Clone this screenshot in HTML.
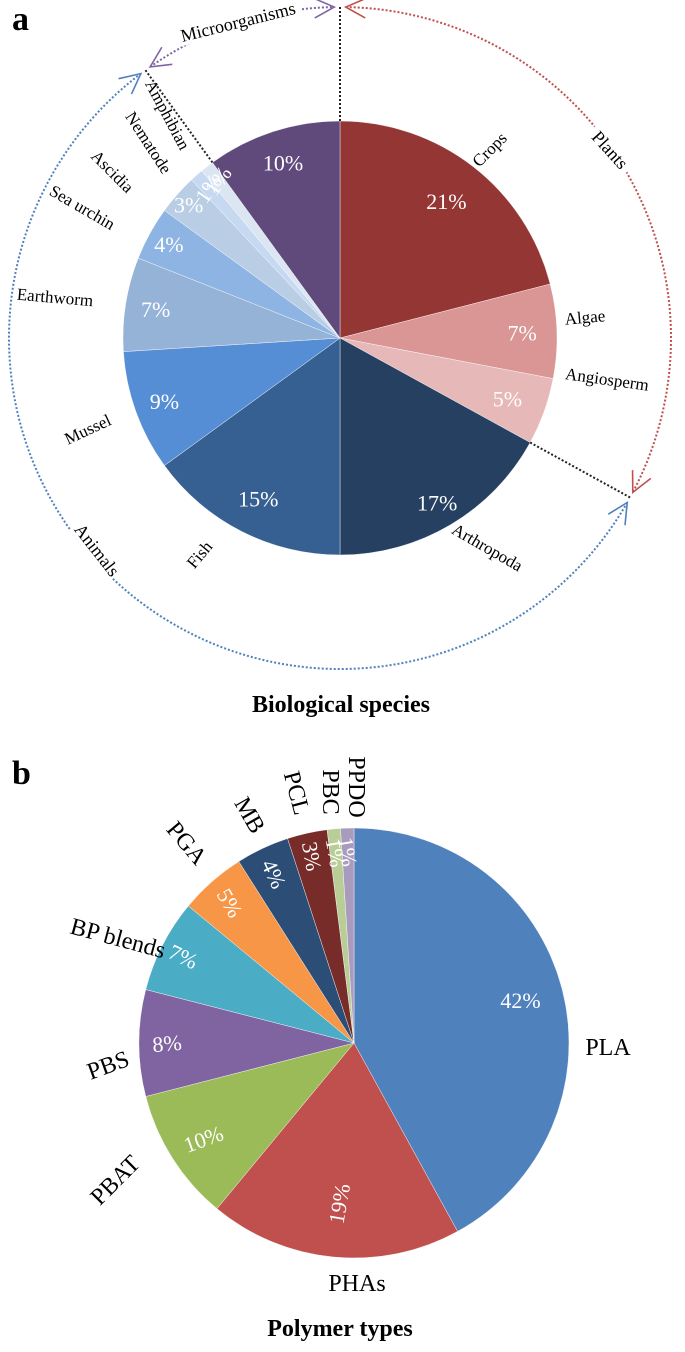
<!DOCTYPE html>
<html><head><meta charset="utf-8"><style>
html,body{margin:0;padding:0;background:#fff;}
svg{display:block;font-family:"Liberation Serif",serif;}
</style></head><body>
<svg id="chart" width="685" height="1352" viewBox="0 0 685 1352" xmlns="http://www.w3.org/2000/svg">
<text x="12" y="30" font-size="34" font-weight="bold">a</text>
<text x="12" y="784" font-size="34" font-weight="bold">b</text>
<text x="341" y="712" font-size="24" font-weight="bold" text-anchor="middle">Biological species</text>
<text x="340" y="1336" font-size="24" font-weight="bold" text-anchor="middle">Polymer types</text>
<g id="ga"></g><g id="gb"></g>
</svg>
<script>
const speciesNames=["Crops","Algae","Angiosperm","Arthropoda","Fish","Mussel","Earthworm","Sea urchin","Ascidia","Nematode","Amphibian","Microorganisms"];
const speciesValues=[21,7,5,17,15,9,7,4,3,1,1,10];
const speciesColors=["#943634","#d99694","#e6b9b8","#254061","#376092","#558ed5","#95b3d7","#8eb4e3","#b9cde5","#c6d9f1","#dce6f2","#604a7b"];
const polymerNames=["PLA","PHAs","PBAT","PBS","BP blends","PGA","MB","PCL","PBC","PPDO"];
const polymerValues=[42,19,10,8,7,5,4,3,1,1];
const polymerColors=["#4f81bd","#c0504d","#9bbb59","#8064a2","#4bacc6","#f79646","#2c4d75","#772c2a","#b9cd96","#a99bbd"];
const NS="http://www.w3.org/2000/svg";
function mk(tag,attrs,parent){const e=document.createElementNS(NS,tag);for(const k in attrs)e.setAttribute(k,attrs[k]);parent.appendChild(e);return e;}
function pt(cx,cy,r,a){const t=a*Math.PI/180;return [cx+r*Math.sin(t),cy-r*Math.cos(t)];}
function drawPie(g,cx,cy,r,vals,cols,names,prefix){
  const tot=vals.reduce((a,b)=>a+b,0);let acc=0;const mids=[];
  vals.forEach((v,i)=>{const a0=acc/tot*360,a1=(acc+v)/tot*360;acc+=v;
    const p0=pt(cx,cy,r,a0),p1=pt(cx,cy,r,a1);
    const p=mk('path',{d:`M${cx},${cy}L${p0[0]},${p0[1]}A${r},${r} 0 ${a1-a0>180?1:0} 1 ${p1[0]},${p1[1]}Z`,fill:cols[i],stroke:'#fff','stroke-width':0.4},g);
    
    
    mids.push([(a0+a1)/2,a0,a1]);});
  return mids;}
// Chart A
const ga=document.getElementById('ga');
const CAx=340,CAy=338,RA=217,RR=331;
const ma=drawPie(ga,CAx,CAy,RA,speciesValues,speciesColors,speciesNames,'species');
const pctRA=[0.8,0.84,0.82,0.88,0.83,0.86,0.86,0.9,0.93,0.92,0.92,0.85];
speciesValues.forEach((v,i)=>{const m=ma[i][0];const p=pt(CAx,CAy,RA*pctRA[i],m);
  const rot=(i==9||i==10)?-55:0;
  const t=mk('text',{x:p[0],y:p[1]+8,'font-size':22,fill:'#fff','text-anchor':'middle',transform:`rotate(${rot} ${p[0]} ${p[1]})`},ga);t.textContent=v+'%';
  
  });
const labA=[[490,150,-45],[585,318,-5],[607,380,8],[487,548,30],[200,555,-50],[88,430,-25],[55,298,5],[82,208,30],[112,172,45],[148,143,57],[167,115,62]];
labA.forEach((l,i)=>{const t=mk('text',{x:l[0],y:l[1]+5,'font-size':17,fill:'#000','text-anchor':'middle',transform:`rotate(${l[2]} ${l[0]} ${l[1]})`},ga);t.textContent=speciesNames[i];
  
  });
function arc(a0,a1,col,name){const p0=pt(CAx,CAy,RR,a0),p1=pt(CAx,CAy,RR,a1);
  const e=mk('path',{d:`M${p0[0]},${p0[1]}A${RR},${RR} 0 ${a1-a0>180?1:0} 1 ${p1[0]},${p1[1]}`,fill:'none',stroke:col,'stroke-width':2,'stroke-dasharray':'2,2'},ga);
  
  
  [[a0,1],[a1,-1]].forEach(([a,d])=>{const p=pt(CAx,CAy,RR,a);const t1=pt(CAx,CAy,RR-10,a+d*3.5),t2=pt(CAx,CAy,RR+10,a+d*3.5);
    mk('path',{d:`M${t1[0]},${t1[1]}L${p[0]},${p[1]}L${t2[0]},${t2[1]}`,fill:'none',stroke:col,'stroke-width':1.6},ga);});}
const bA=[0,(21+7+5)/100*360,(100-10)/100*360];
arc(bA[0]+1,bA[1]-1,'#c0504d','plants-bracket');
arc(bA[1]+1,bA[2]-1,'#4f81bd','animals-bracket');
arc(bA[2]+1,359,'#8064a2','microorganisms-bracket');
bA.forEach((a,i)=>{const p0=pt(CAx,CAy,RA,a),p1=pt(CAx,CAy,RR,a);const e=mk('line',{x1:p0[0],y1:p0[1],x2:p1[0],y2:p1[1],stroke:'#222','stroke-width':2,'stroke-dasharray':'2,2'},ga);
  
  });
[["Plants",610,150,48,'plants-group-label'],["Animals",97,550,52,'animals-group-label'],["Microorganisms",238,22,-14,'microorganisms-group-label']].forEach(g=>{
  mk('rect',{x:g[1]-(g[0].length*4.6),y:g[2]-10,width:g[0].length*9.2,height:20,fill:'#fff',transform:`rotate(${g[3]} ${g[1]} ${g[2]})`},ga);
  const t=mk('text',{x:g[1],y:g[2]+6,'font-size':18,'text-anchor':'middle',transform:`rotate(${g[3]} ${g[1]} ${g[2]})`},ga);t.textContent=g[0];
  
  });
// Chart B
const gb=document.getElementById('gb');
const CBx=354,CBy=1043,RB=215;
const mb=drawPie(gb,CBx,CBy,RB,polymerValues,polymerColors,polymerNames,'polymer');
const pctRB=[0.8,0.75,0.83,0.87,0.89,0.87,0.87,0.89,0.89,0.89];
const pctRot=[0,-80,-20,-5,25,60,65,80,80,80];
polymerValues.forEach((v,i)=>{const p=pt(CBx,CBy,RB*pctRB[i],mb[i][0]);
  const t=mk('text',{x:p[0],y:p[1]+8,'font-size':22,fill:'#fff','text-anchor':'middle',transform:`rotate(${pctRot[i]} ${p[0]} ${p[1]})`},gb);t.textContent=v+'%';
  
  });
const labB=[[608,1047,0],[357,1283,0],[115,1180,-45],[108,1065,-20],[118,938,15],[187,843,50],[250,815,60],[297,793,75],[331,792,90],[357,787,90]];
labB.forEach((l,i)=>{const t=mk('text',{x:l[0],y:l[1]+8,'font-size':24,'text-anchor':'middle',transform:`rotate(${l[2]} ${l[0]} ${l[1]})`},gb);t.textContent=polymerNames[i];
  
  });
</script>
</body></html>
